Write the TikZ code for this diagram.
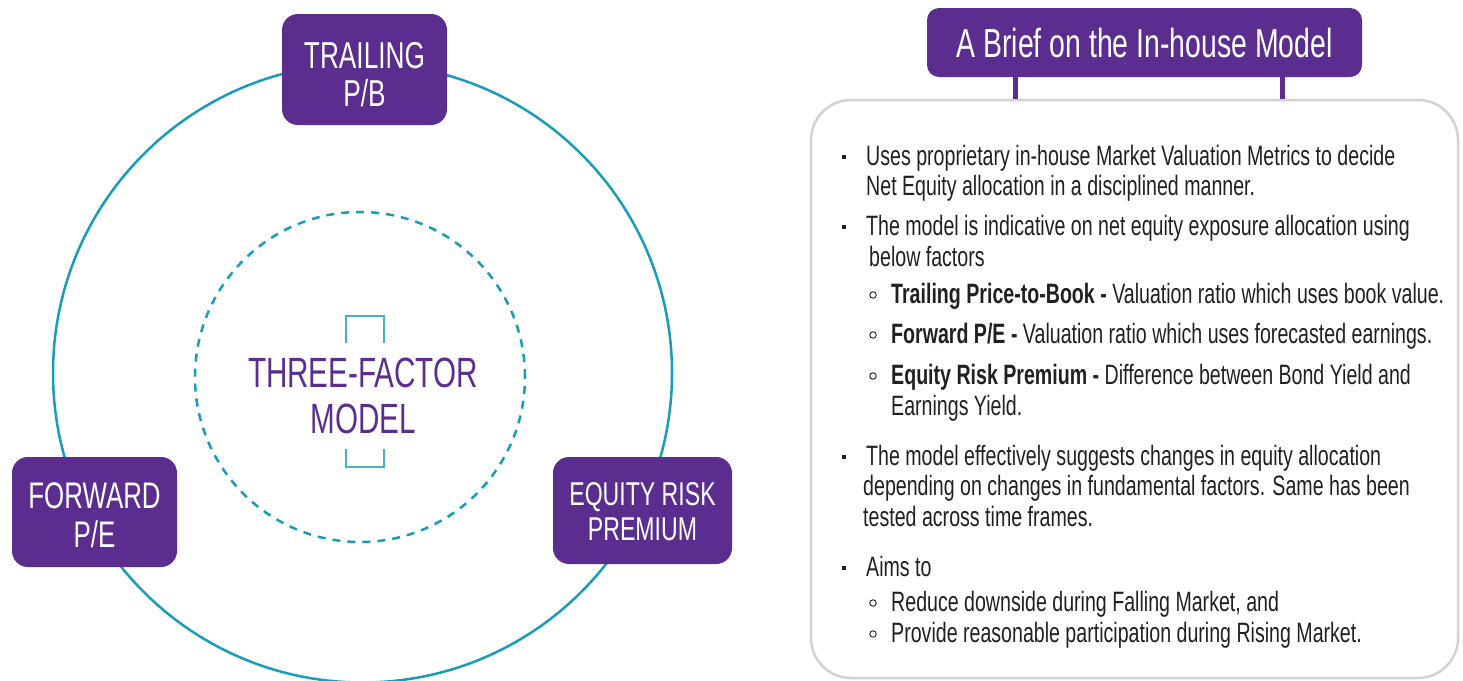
\documentclass[tikz,border=0pt]{standalone}
\usepackage{fontspec}
\setmainfont{Liberation Sans}[FakeStretch=0.7]
\definecolor{purp}{RGB}{91,45,142}
\definecolor{teal1}{RGB}{24,157,184}
\definecolor{teal2}{RGB}{70,176,198}
\definecolor{txt}{RGB}{35,31,32}
\definecolor{panelgray}{RGB}{210,210,210}
\begin{document}
\begin{tikzpicture}[x=1pt,y=-1pt,
  factor/.style={fill=purp, rounded corners=16pt, inner sep=0pt},
  ftxt/.style={text=white, align=center, inner sep=0pt, anchor=base},
  body/.style={anchor=base west, inner sep=0pt, text=txt, font=\fontsize{28}{31}\selectfont},
  sqb/.style={fill=txt, minimum size=3.6pt, inner sep=0pt},
  cib/.style={circle, draw=txt, line width=0.9pt, minimum size=6.5pt, inner sep=0pt},
  stub/.style={draw=purp, line width=5pt}]
\useasboundingbox (0,0) rectangle (1463,680);
% left: circles
\node[circle, draw=teal1, line width=2.5pt, minimum size=619pt, inner sep=0pt] (outer) at (362.5,373) {};
\node[circle, draw=teal1, line width=2.5pt, dash pattern=on 8pt off 7pt, minimum size=330pt, inner sep=0pt] (inner) at (360,377) {};
% brackets
\coordinate (bl) at (346,343);
\coordinate (br) at (384,343);
\coordinate (bt) at (365,316);
\draw[teal2, line width=1.6pt] (bl) |- (bt) -| (br);
\coordinate (cl) at (346,449);
\coordinate (cr) at (384,449);
\coordinate (cb) at (365,467);
\draw[teal2, line width=1.6pt] (cl) |- (cb) -| (cr);
\node[text=purp, font=\fontsize{42.3}{46}\selectfont, align=center, inner sep=0pt, anchor=base] (tfm) at (363,433) {THREE-FACTOR\\MODEL};
% factor boxes
\node[factor, minimum width=165pt, minimum height=111pt] (trail) at (364.5,69.5) {};
\node[ftxt, font=\fontsize{37.5}{38}\selectfont] (trailT) at (364.5,106) {TRAILING\\P/B};
\node[factor, minimum width=165pt, minimum height=110pt] (fwd) at (94.5,512) {};
\node[ftxt, font=\fontsize{37}{39}\selectfont] (fwdT) at (94.5,547) {FORWARD\\P/E};
\node[factor, minimum width=179pt, minimum height=107pt] (erp) at (642.5,510.5) {};
\node[ftxt, font=\fontsize{33}{35}\selectfont] (erpT) at (642.5,540) {EQUITY RISK\\PREMIUM};
% right panel
\node[draw=panelgray, line width=2.5pt, rounded corners=40pt, minimum width=647pt, minimum height=578pt, inner sep=0pt] (panel) at (1134.5,389) {};
\node[fill=purp, text=white, rounded corners=12pt, minimum width=435pt, minimum height=69pt, inner sep=0pt, font=\fontsize{40.6}{44}\selectfont] (title) at (1144.5,42.5) {A Brief on the In-house Model};
\coordinate (s1) at (1015,0);
\coordinate (s2) at (1282,0);
\draw[stub] (title.south -| s1) -- (panel.north -| s1);
\draw[stub] (title.south -| s2) -- (panel.north -| s2);
% text lines
\node[body] (l1) at (866,165) {Uses proprietary in-house Market Valuation Metrics to decide};
\node[body] (l2) at (866,195) {Net Equity allocation in a disciplined manner.};
\node[body] (l3) at (866,235) {The model is indicative on net equity exposure allocation using};
\node[body] (l4) at (869,266) {below factors};
\node[body] (l5) at (891,303) {\textbf{Trailing Price-to-Book -} Valuation ratio which uses book value.};
\node[body] (l6) at (891,343) {\textbf{Forward P/E -} Valuation ratio which uses forecasted earnings.};
\node[body] (l7) at (891,384) {\textbf{Equity Risk Premium -} Difference between Bond Yield and};
\node[body] (l8) at (891,415) {Earnings Yield.};
\node[body] (l9) at (866,465) {The model effectively suggests changes in equity allocation};
\node[body] (l10) at (863,495) {depending on changes in fundamental factors. Same has been};
\node[body] (l11) at (863,526) {tested across time frames.};
\node[body] (l12) at (866,576) {Aims to};
\node[body] (l13) at (891,611) {Reduce downside during Falling Market, and};
\node[body] (l14) at (891,642) {Provide reasonable participation during Rising Market.};
% bullets
\node[sqb] (b1) at (844,157) {};
\node[sqb] (b3) at (844,227) {};
\node[sqb] (b9) at (844,457) {};
\node[sqb] (b12) at (844,568) {};
\node[cib] (c5) at (873,295) {};
\node[cib] (c6) at (873,335) {};
\node[cib] (c7) at (873,376) {};
\node[cib] (c13) at (873,603) {};
\node[cib] (c14) at (873,634) {};
\end{tikzpicture}
\end{document}
